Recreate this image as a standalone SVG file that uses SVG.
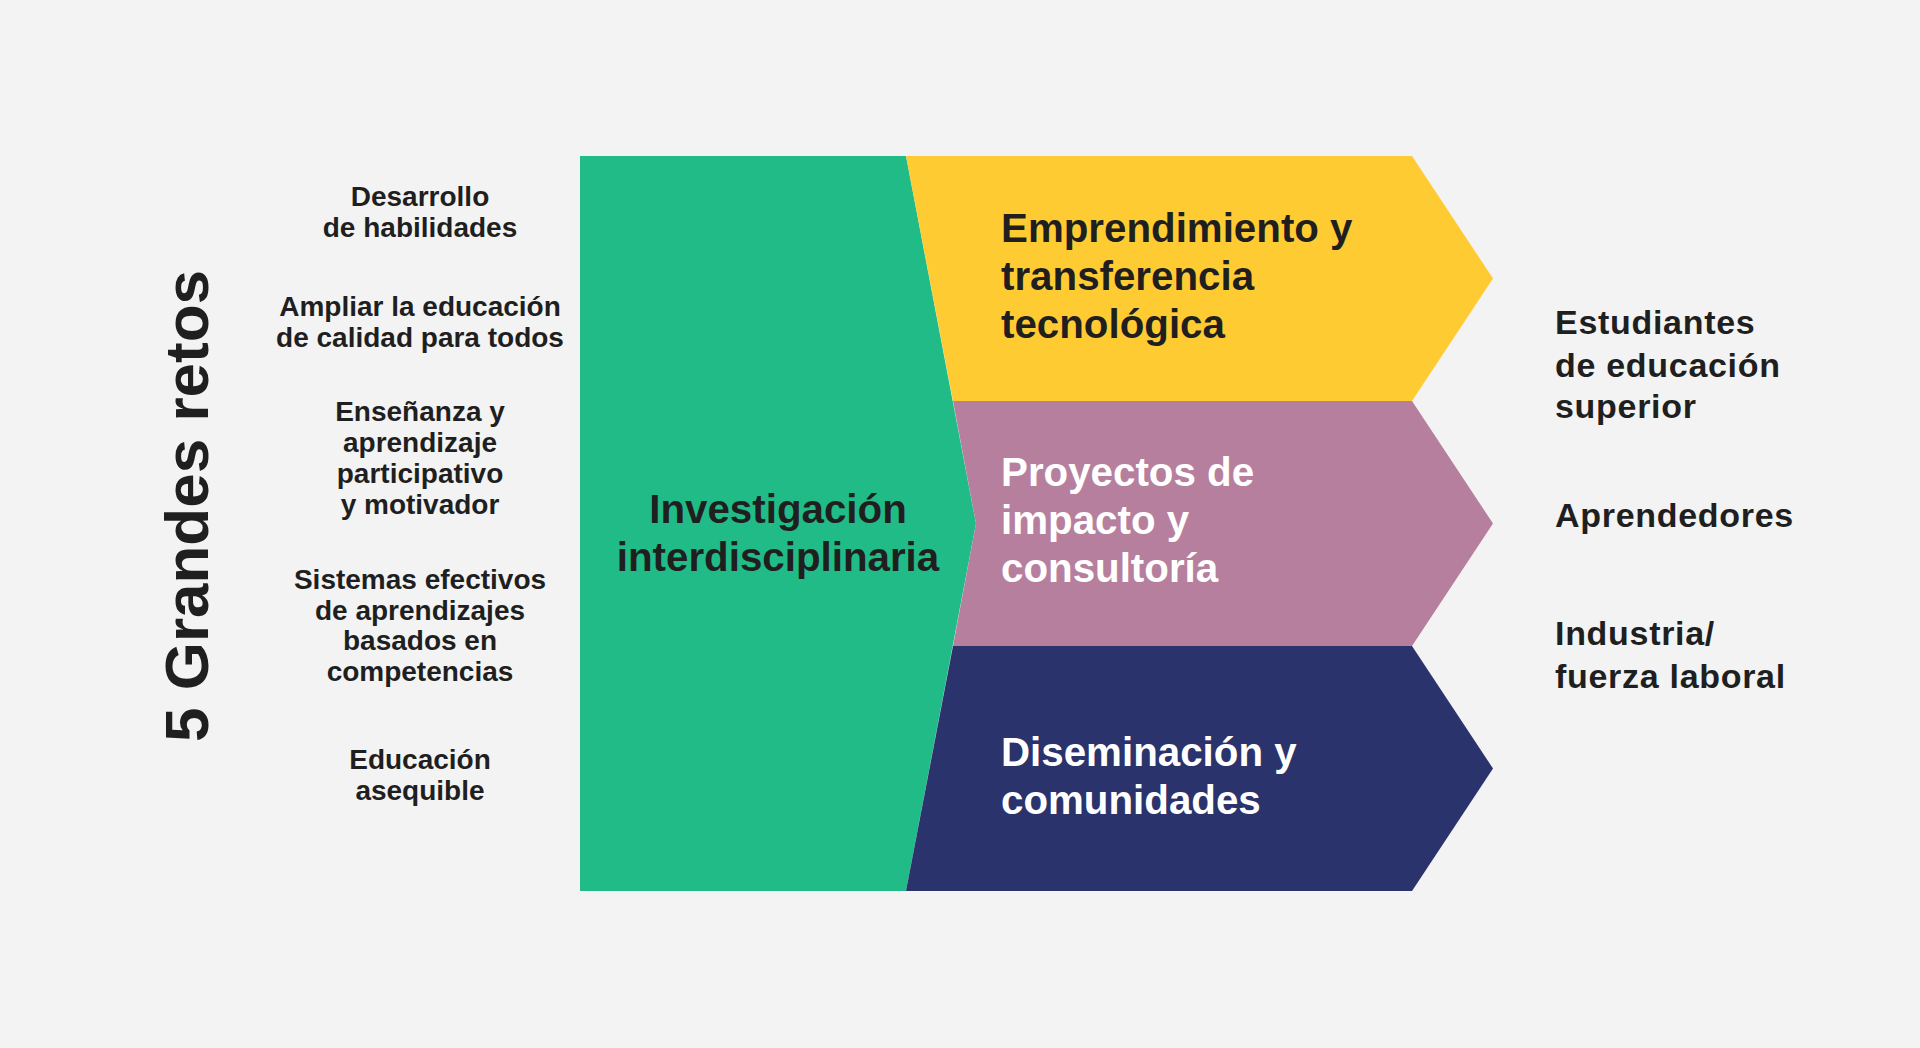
<svg xmlns="http://www.w3.org/2000/svg" width="1920" height="1048" viewBox="0 0 1920 1048">
<style>
text{font-family:"Liberation Sans",Arial,sans-serif;font-weight:700}
.lt{font-size:28px;fill:#1f1f1f;text-anchor:middle}
.ct{font-size:40.3px}
.dk{fill:#1f1f1f}
.wh{fill:#ffffff}
.rt{font-size:34px;fill:#1f1f1f;letter-spacing:0.7px}
.title{font-size:62px;fill:#1f1f1f;text-anchor:middle}
</style>
<rect x="0" y="0" width="1920" height="1048" fill="#f3f3f3"/>
<g id="title">
<text class="title" transform="translate(208,506) rotate(-90)">5 Grandes retos</text>
</g>
<g id="retos">
<g id="reto1"><text class="lt" x="420" y="206">Desarrollo</text><text class="lt" x="420" y="237">de habilidades</text></g>
<g id="reto2"><text class="lt" x="420" y="316">Ampliar la educación</text><text class="lt" x="420" y="347">de calidad para todos</text></g>
<g id="reto3"><text class="lt" x="420" y="421">Enseñanza y</text><text class="lt" x="420" y="452">aprendizaje</text><text class="lt" x="420" y="483">participativo</text><text class="lt" x="420" y="514">y motivador</text></g>
<g id="reto4"><text class="lt" x="420" y="589">Sistemas efectivos</text><text class="lt" x="420" y="620">de aprendizajes</text><text class="lt" x="420" y="650">basados en</text><text class="lt" x="420" y="681">competencias</text></g>
<g id="reto5"><text class="lt" x="420" y="769">Educación</text><text class="lt" x="420" y="800">asequible</text></g>
</g>
<g id="investigacion">
<polygon points="580,156 906,156 976,523.5 906,891 580,891" fill="#21bb87"/>
<text class="ct dk" x="778" y="523" text-anchor="middle">Investigación</text>
<text class="ct dk" x="778" y="571" text-anchor="middle">interdisciplinaria</text>
</g>
<g id="emprendimiento">
<polygon points="906,156 1412,156 1493,278.5 1412,401 953,401" fill="#ffcb33"/>
<text class="ct dk" x="1001" y="242">Emprendimiento y</text>
<text class="ct dk" x="1001" y="290">transferencia</text>
<text class="ct dk" x="1001" y="338">tecnológica</text>
</g>
<g id="proyectos">
<polygon points="953,401 1412,401 1493,523.5 1412,646 953,646 976,523.5" fill="#b77f9e"/>
<text class="ct wh" x="1001" y="486">Proyectos de</text>
<text class="ct wh" x="1001" y="534">impacto y</text>
<text class="ct wh" x="1001" y="582">consultoría</text>
</g>
<g id="diseminacion">
<polygon points="953,646 1412,646 1493,768.5 1412,891 906,891" fill="#2a336b"/>
<text class="ct wh" x="1001" y="766">Diseminación y</text>
<text class="ct wh" x="1001" y="814">comunidades</text>
</g>
<g id="beneficiarios">
<g id="ben1"><text class="rt" x="1555" y="334">Estudiantes</text><text class="rt" x="1555" y="377">de educación</text><text class="rt" x="1555" y="418">superior</text></g>
<g id="ben2"><text class="rt" x="1555" y="527">Aprendedores</text></g>
<g id="ben3"><text class="rt" x="1555" y="645">Industria/</text><text class="rt" x="1555" y="688">fuerza laboral</text></g>
</g>
<g id="connectors"></g>
</svg>
